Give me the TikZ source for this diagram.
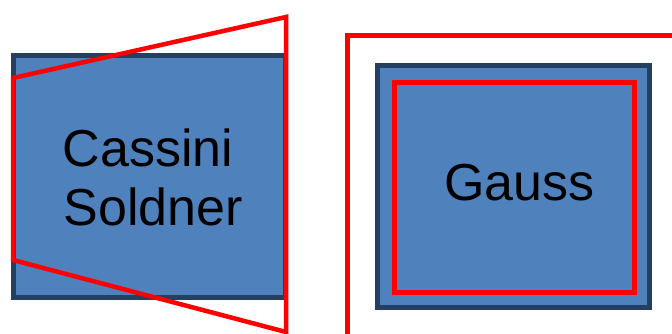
\documentclass[tikz,border=0pt]{standalone}
\usepackage{fontspec}
\setmainfont{Liberation Sans}
\definecolor{boxfill}{HTML}{4F81BD}
\definecolor{boxedge}{HTML}{243F60}
\definecolor{cutred}{HTML}{FF0000}
\begin{document}
\begin{tikzpicture}[x=1pt,y=-1pt]
\tikzset{
  projbox/.style={draw=boxedge, fill=boxfill, line width=5pt, inner sep=0pt},
  lbl/.style={inner sep=0pt, anchor=base west, font=\fontsize{52}{56}\selectfont},
  cutline/.style={draw=cutred, line width=4.5pt}
}
\useasboundingbox (0,0) rectangle (672,334);
% Cassini-Soldner sheet with its trapezoidal red outline
\node[projbox, minimum width=272pt, minimum height=241pt] (cassini) at (149.5,176.5) {};
\node[lbl] (cassiniA) at (62.5,166.5) {Cassini};
\node[lbl] (cassiniB) at (63.5,225.5) {Soldner};
\coordinate (tl) at (13,78);
\coordinate (tr) at (286,17);
\coordinate (br) at (286,332);
\coordinate (bl) at (13,260);
\draw[cutline, line join=miter] (tl) -- (tr) -- (br) -- (bl) -- cycle;
% Gauss sheet inside a large red frame
\coordinate (frame) at (347.5,35.5);
\coordinate (frameend) at (700,360);
\draw[cutline] (frame) rectangle (frameend);
\node[projbox, minimum width=272pt, minimum height=242pt] (gauss) at (513.5,186.5) {};
\node[lbl] (gausstext) at (444,200) {Gauss};
\coordinate (in1) at (394,83);
\coordinate (in2) at (634,292);
\draw[cutline, line width=5pt] (in1) rectangle (in2);
\end{tikzpicture}
\end{document}
